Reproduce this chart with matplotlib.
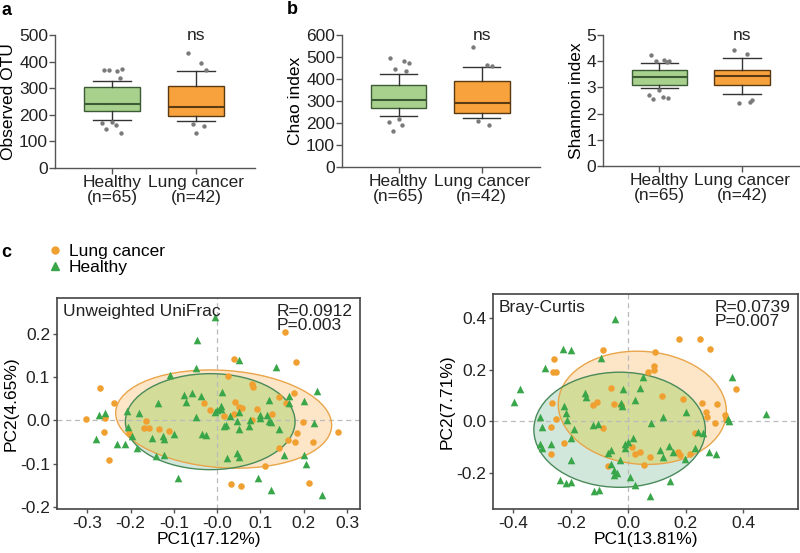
import matplotlib
matplotlib.use('Agg')
import matplotlib.pyplot as plt
import numpy as np
from matplotlib.patches import Ellipse
from matplotlib.lines import Line2D

plt.rcParams['font.family'] = ['Liberation Sans', 'DejaVu Sans']

# ---------------- data ----------------
groups = ['Healthy\n(n=65)', 'Lung cancer\n(n=42)']

# box stats: [whislo, q1, median, q3, whishi]
otu_box = [[179, 215, 241, 304, 327], [175, 194, 231, 309, 366]]
otu_fliers = [[370, 366, 372, 368, 340, 172, 168, 162, 145, 133],
              [431, 394, 369, 166, 159, 131]]
chao_box = [[232, 266, 304, 372, 425], [225, 246, 292, 389, 456]]
chao_fliers = [[497, 482, 474, 444, 436, 216, 205, 190, 163],
               [547, 462, 460, 210, 190]]
shannon_box = [[2.97, 3.10, 3.39, 3.67, 3.92], [2.73, 3.10, 3.44, 3.67, 4.13]]
shannon_fliers = [[4.22, 4.05, 4.02, 4.00, 3.98, 2.89, 2.70, 2.62, 2.57, 2.60],
                  [4.41, 4.27, 2.53, 2.41, 2.45]]

# PCoA - Unweighted UniFrac
uw_lung_x = [0.156, 0.181, 0.04, -0.27, -0.238, 0.025, 0.081, 0.082, 0.178, 0.142, -0.03, 0.041, 0.05,
             -0.304, -0.262, -0.249, -0.258, -0.164, -0.169, -0.157, -0.134, -0.111, -0.203, 0.016, 0.04,
             0.092, 0.127, 0.16, 0.199, 0.185, 0.18, 0.163, 0.143, 0.222, 0.28, 0.111, 0.031, 0.056, 0.212,
             -0.016, 0.058, 0.081]
uw_lung_y = [0.205, 0.134, 0.143, 0.076, 0.041, 0.103, 0.085, 0.078, 0.064, 0.053, 0.041, 0.043, 0.03,
             0.004, -0.027, -0.092, 0.006, -0.002, -0.017, -0.018, -0.021, -0.025, -0.03, 0.01, 0.014,
             0.027, 0.014, 0.04, -0.004, -0.03, -0.049, -0.046, -0.065, -0.051, -0.028, -0.105, -0.148, -0.152, -0.146,
             0.025, 0.028, 0.0]
uw_healthy_x = [-0.005, -0.046, 0.05, -0.05, -0.108, 0.137, 0.23, -0.077, -0.058, -0.037, -0.073, -0.136, 0.012,
                0.008, 0.12, 0.167, 0.2, 0.165,
                -0.281, -0.273, -0.258, -0.231, -0.213, -0.208, -0.205, -0.196, -0.185, -0.18, -0.141, -0.123,
                -0.125, -0.123, -0.099, -0.09, -0.05, -0.035, -0.026, -0.004, 0.0, 0.01, 0.016, 0.02, 0.03,
                0.046, 0.05, 0.046, 0.05, 0.023, 0.05, 0.075, 0.098, 0.1, 0.116, 0.12, 0.124, 0.143, 0.154,
                0.2, 0.206, 0.224, 0.095, 0.125, 0.242, 0.074, -0.15]
uw_healthy_y = [0.238, 0.185, 0.139, 0.12, 0.104, 0.124, 0.068, 0.058, 0.064, 0.056, 0.043, 0.04, 0.065,
                0.033, 0.046, 0.056, 0.045, 0.04,
                -0.042, 0.012, 0.018, -0.055, -0.055, 0.021, -0.016, -0.037, -0.065, 0.018, -0.083, -0.079,
                -0.037, -0.043, -0.032, -0.134, 0.007, -0.032, -0.035, 0.019, 0.024, 0.026, -0.013, -0.011, 0.01,
                -0.002, -0.02, -0.075, -0.085, -0.088, 0.02, 0.0, 0.012, 0.005, 0.012, -0.002, -0.003, -0.02, -0.081,
                -0.081, -0.1, -0.005, -0.134, -0.161, -0.173, -0.014, -0.04]

# PCoA - Bray-Curtis
bc_lung_x = [-0.087, -0.258, -0.261, -0.252, -0.265, -0.27, -0.25, -0.223, -0.27, -0.06, -0.122, -0.11,
             -0.05, -0.025, -0.087, 0.014, 0.04, 0.024, 0.076, 0.055, -0.07, 0.178, 0.25, 0.285, 0.094,
             0.091, 0.088, 0.07, 0.118, 0.19, 0.255, 0.31, 0.373, 0.272, 0.275, 0.302, 0.338, 0.34,
             0.174, 0.18, 0.215, 0.233]
bc_lung_y = [0.275, 0.24, 0.19, 0.19, 0.07, -0.023, 0.008, -0.085, -0.125, 0.128, 0.062, 0.074,
             0.066, 0.062, -0.027, -0.1, -0.12, -0.128, -0.14, -0.17, -0.175, 0.318, 0.318, 0.279, 0.267,
             0.213, 0.2, 0.19, 0.097, 0.085, 0.07, 0.066, 0.124, 0.035, 0.015, -0.008, 0.023, 0.01,
             -0.12, -0.13, -0.125, -0.047]
bc_healthy_x = [-0.045, -0.226, -0.199, -0.094, -0.289, -0.376, -0.397, -0.15, -0.146, -0.017, -0.024, -0.02,
                0.024, 0.04, 0.052, -0.223, -0.216, -0.212, -0.306, -0.3, -0.19, -0.198, -0.306, -0.3, -0.268,
                -0.199, -0.122, -0.105, 0.017, -0.01, -0.01, -0.07, -0.06, -0.06, -0.05, -0.05, -0.03, 0.006,
                0.024, -0.236, -0.218, -0.2, -0.12, -0.1, 0.359, 0.48, 0.345, 0.202, 0.122, 0.08, 0.244, 0.26,
                0.233, 0.282, 0.306, 0.198, 0.143, 0.11, 0.157, 0.12, 0.146, 0.077, 0.35, -0.04, 0.0]
bc_healthy_y = [0.395, 0.279, 0.275, 0.244, 0.205, 0.124, 0.074, 0.108, 0.095, 0.124, 0.07, 0.06,
                0.081, 0.13, 0.17, 0.058, 0.031, 0.004, 0.016, -0.023, -0.031, -0.066, -0.09, -0.105, -0.09,
                -0.151, -0.016, -0.01, -0.066, -0.09, -0.105, -0.123, -0.11, -0.167, -0.19, -0.21, -0.151, -0.217,
                -0.248, -0.229, -0.238, -0.235, -0.27, -0.268, 0.17, 0.027, 0.008, 0.035, 0.016, -0.008, -0.043, -0.045,
                -0.105, -0.12, -0.128, -0.147, -0.097, -0.11, -0.12, -0.14, -0.233, -0.29, 0.0, -0.2, -0.08]

# ellipse params: [cx, cy, width, height, angle]
uw_ell_lung = [0.015, 0.003, 0.50, 0.225, -4]
uw_ell_healthy = [-0.016, -0.003, 0.392, 0.222, 0]
bc_ell_lung = [0.049, 0.052, 0.586, 0.437, -6]
bc_ell_healthy = [-0.03, -0.033, 0.596, 0.446, 0]

uw_stats = ['R=0.0912', 'P=0.003']
bc_stats = ['R=0.0739', 'P=0.007']
uw_xticks = [-0.3, -0.2, -0.1, 0.0, 0.1, 0.2, 0.3]
uw_xticklabels = ['-0.3', '-0.2', '-0.1', '-0.0', '0.1', '0.2', '0.3']
uw_yticks = [-0.2, -0.1, 0.0, 0.1, 0.2]
uw_yticklabels = ['-0.2', '-0.1', '0.0', '0.1', '0.2']
bc_xticks = [-0.4, -0.2, 0.0, 0.2, 0.4]
bc_xticklabels = ['-0.4', '-0.2', '0.0', '0.2', '0.4']
bc_yticks = [-0.2, 0.0, 0.2, 0.4]
bc_yticklabels = ['-0.2', '0.0', '0.2', '0.4']

# ---------------- style ----------------
GREEN_BOX = '#a9d18e'
ORANGE_BOX = '#f7a23c'
GREEN_EDGE = '#3c5a34'
ORANGE_EDGE = '#5a3a12'
ORANGE_PT = '#f0a030'
GREEN_PT = '#3aa64a'
AXC = '#555555'
ORANGE_FILL = '#fde6c8'
GREEN_FILL = '#d2e7dc'
OVERLAP_FILL = '#d3dc98'

fig = plt.figure(figsize=(8, 5.53), dpi=100)

W, H = 800, 553
def axes_px(l, t, r, b):
    return fig.add_axes([l / W, 1 - b / H, (r - l) / W, (b - t) / H])

def boxpanel(ax, box, fliers, ymax, ystep, ylabel, fmt):
    stats = []
    for b, name in zip(box, groups):
        stats.append(dict(whislo=b[0], q1=b[1], med=b[2], q3=b[3], whishi=b[4], fliers=[], label=name))
    bp = ax.bxp(stats, positions=[1, 2], widths=0.67, capwidths=0.45, patch_artist=True,
                showfliers=False)
    for i, (patch, fc, ec) in enumerate(zip(bp['boxes'], [GREEN_BOX, ORANGE_BOX], [GREEN_EDGE, ORANGE_EDGE])):
        patch.set_facecolor(fc)
        patch.set_edgecolor(ec)
        patch.set_linewidth(1.0)
        bp['medians'][i].set_color(ec)
        bp['medians'][i].set_linewidth(1.5)
        for w in bp['whiskers'][2 * i:2 * i + 2] + bp['caps'][2 * i:2 * i + 2]:
            w.set_color('#333333')
            w.set_linewidth(1.0)
    pattern = [-0.10, 0.06, 0.12, -0.04, 0.09, 0.0, -0.12, 0.04, -0.07, 0.11]
    for i, fl in enumerate(fliers):
        xs = [i + 1 + pattern[k % len(pattern)] for k in range(len(fl))]
        ax.scatter(xs, fl, s=10, color='#7a7a7a', zorder=3, linewidths=0)
    ax.set_xlim(0.32, 2.7)
    ax.set_ylim(0, ymax)
    yt = np.arange(0, ymax + ystep / 2, ystep)
    ax.set_yticks(yt)
    ax.set_yticklabels([fmt.format(v) for v in yt])
    ax.set_xticks([1, 2])
    ax.set_xticklabels(groups, fontsize=12.5, linespacing=1.0)
    ax.set_ylabel(ylabel, fontsize=12.5, labelpad=2)
    for s in ['top', 'right']:
        ax.spines[s].set_visible(False)
    for s in ['left', 'bottom']:
        ax.spines[s].set_color(AXC)
        ax.spines[s].set_linewidth(1.0)
    ax.tick_params(axis='both', colors=AXC, labelcolor='#222222', labelsize=12.5, length=4, width=1.0, pad=1)
    ax.text(2, ymax, 'ns', ha='center', va='center', fontsize=12.5, color='#222222')

ax_a = axes_px(55, 35, 255, 168)
boxpanel(ax_a, otu_box, otu_fliers, 500, 100, 'Observed OTU', '{:.0f}')
ax_b = axes_px(342, 35, 540, 167)
boxpanel(ax_b, chao_box, chao_fliers, 600, 100, 'Chao index', '{:.0f}')
ax_c = axes_px(603, 35, 800, 166)
boxpanel(ax_c, shannon_box, shannon_fliers, 5, 1, 'Shannon index', '{:.0f}')

def make_ell(p, **kw):
    return Ellipse((p[0], p[1]), p[2], p[3], angle=p[4], **kw)

def pcoa(ax, lx, ly, hx, hy, ell_l, ell_h, title, stats, xlim, ylim, xticks, xtl, yticks, ytl, xlabel, ylabel):
    e_l = make_ell(ell_l, facecolor=ORANGE_FILL, edgecolor='none', zorder=1)
    ax.add_patch(e_l)
    ax.add_patch(make_ell(ell_h, facecolor=GREEN_FILL, edgecolor='none', zorder=1.2))
    ov = make_ell(ell_h, facecolor=OVERLAP_FILL, edgecolor='none', zorder=1.4)
    ax.add_patch(ov)
    ov.set_clip_path(e_l)
    ax.add_patch(make_ell(ell_l, facecolor='none', edgecolor='#e9a54a', linewidth=1.0, zorder=2))
    ax.add_patch(make_ell(ell_h, facecolor='none', edgecolor='#4a8a5a', linewidth=1.0, zorder=2))
    ax.axhline(0, color='#bbbbbb', lw=0.9, ls=(0, (4, 3)), zorder=1.8)
    ax.axvline(0, color='#bbbbbb', lw=0.9, ls=(0, (4, 3)), zorder=1.8)
    ax.scatter(lx, ly, s=22, marker='o', color=ORANGE_PT, linewidths=0, zorder=3)
    ax.scatter(hx, hy, s=30, marker='^', color=GREEN_PT, linewidths=0, zorder=3)
    ax.set_xlim(*xlim)
    ax.set_ylim(*ylim)
    ax.set_xticks(xticks)
    ax.set_xticklabels(xtl)
    ax.set_yticks(yticks)
    ax.set_yticklabels(ytl)
    ax.set_xlabel(xlabel, fontsize=12.5, labelpad=1)
    ax.set_ylabel(ylabel, fontsize=12.5, labelpad=1)
    for s in ax.spines.values():
        s.set_color('#444444')
        s.set_linewidth(1.2)
    ax.tick_params(axis='both', colors=AXC, labelcolor='#222222', labelsize=12.5, length=3, width=1.0, pad=2)
    ax.text(0.02, 0.97, title, transform=ax.transAxes, ha='left', va='top', fontsize=12.5, color='#222222')
    ax.text(0.975, 0.97, stats[0] + '\n' + stats[1], transform=ax.transAxes, ha='right', va='top',
            multialignment='left', fontsize=12.5, color='#222222', linespacing=0.85)

ax_d = axes_px(57, 298, 360, 509)
pcoa(ax_d, uw_lung_x, uw_lung_y, uw_healthy_x, uw_healthy_y, uw_ell_lung, uw_ell_healthy,
     'Unweighted UniFrac', uw_stats, (-0.37, 0.33), (-0.205, 0.283),
     uw_xticks, uw_xticklabels, uw_yticks, uw_yticklabels, 'PC1(17.12%)', 'PC2(4.65%)')
ax_e = axes_px(493, 294, 798, 509)
pcoa(ax_e, bc_lung_x, bc_lung_y, bc_healthy_x, bc_healthy_y, bc_ell_lung, bc_ell_healthy,
     'Bray-Curtis', bc_stats, (-0.47, 0.59), (-0.34, 0.493),
     bc_xticks, bc_xticklabels, bc_yticks, bc_yticklabels, 'PC1(13.81%)', 'PC2(7.71%)')

handles = [Line2D([], [], marker='o', ls='none', color=ORANGE_PT, markersize=5),
           Line2D([], [], marker='^', ls='none', color=GREEN_PT, markersize=6)]
fig.legend(handles, ['Lung cancer', 'Healthy'], loc='upper left', bbox_to_anchor=(48 / W, 1 - 244 / H),
           frameon=False, fontsize=12.5, handlelength=0.8, handletextpad=0.4, labelspacing=0.05,
           borderpad=0, borderaxespad=0)

fig.text(1 / W, 1 - 2 / H, 'a', fontsize=13, fontweight='bold', va='top', ha='left')
fig.text(287 / W, 1 - 1 / H, 'b', fontsize=13, fontweight='bold', va='top', ha='left')
fig.text(1 / W, 1 - 244 / H, 'c', fontsize=13, fontweight='bold', va='top', ha='left')

fig.savefig('out.png', dpi=100)
